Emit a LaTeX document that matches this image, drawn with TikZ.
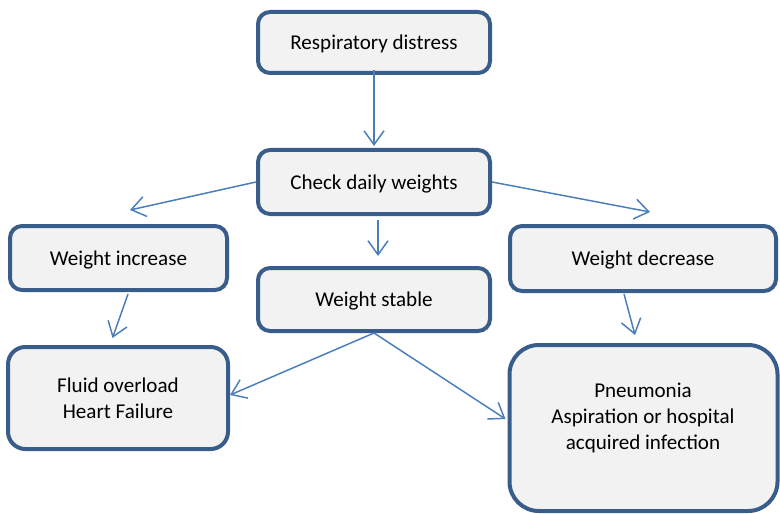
\documentclass[tikz,border=0pt]{standalone}
\usepackage{fontspec}
\setmainfont{Carlito}
\usetikzlibrary{arrows.meta,calc}
\definecolor{boxline}{HTML}{385D8A}
\definecolor{boxfill}{HTML}{F2F2F2}
\definecolor{arrline}{HTML}{4A7EBB}
\begin{document}
\begin{tikzpicture}[x=0.75pt,y=-0.75pt,
  box/.style={draw=boxline,fill=boxfill,line width=3pt,rounded corners=9pt,
    align=center,inner sep=0pt,font=\fontsize{15.8}{19.5}\selectfont},
  oneline/.style={text depth=0pt},
  txt/.style={align=center,inner sep=0pt,font=\fontsize{15.8}{19.5}\selectfont},
  arr/.style={draw=arrline,line width=1.1pt,-{Straight Barb[length=10.5pt,width=15pt,line width=1.1pt]}}]
\useasboundingbox (0,0) rectangle (780,513);
\node[box,oneline,minimum width=174pt,minimum height=45.75pt] (r) at (374,42.5) {Respiratory distress};
\node[box,oneline,minimum width=174pt,minimum height=48pt] (c) at (374,182) {Check daily weights};
\node[box,oneline,minimum width=162.75pt,minimum height=48pt] (inc) at (118.5,258) {Weight increase};
\node[box,oneline,minimum width=174pt,minimum height=47.25pt] (stab) at (374,299.5) {Weight stable};
\node[box,oneline,minimum width=199.5pt,minimum height=48.75pt] (dec) at (643,258.5) {Weight decrease};
\node[box,rounded corners=13pt,minimum width=165pt,minimum height=76.5pt] (fl) at (118,398) {Fluid overload\\Heart Failure};
\node[box,rounded corners=22pt,minimum width=201pt,minimum height=124.5pt] (pn) at (643.5,428) {};
\node[txt] (pntext) at (643,418) {Pneumonia\\Aspiration or hospital\\acquired infection};
\draw[arr] ([yshift=3.75pt]r.south) -- ([yshift=1.5pt]c.north);
\draw[arr] (c.west) -- ($(inc.north)+(11.5,-14)$);
\draw[arr] ($(c.south)+(4,4)$) -- ($(stab.north)+(4,-10)$);
\draw[arr] (c.east) -- ($(dec.north)+(7,-12)$);
\draw[arr] ($(inc.south)+(9.5,2)$) -- ($(fl.north)+(-5.5,-7)$);
\draw[arr] ($(dec.south)+(-19,1)$) -- ($(pn.north)+(-8.5,-8)$);
\draw[arr] (stab.south) -- ($(fl.east)+(0,-3)$);
\draw[arr] (stab.south) -- ($(pn.west)+(-2,-9)$);
\end{tikzpicture}
\end{document}
